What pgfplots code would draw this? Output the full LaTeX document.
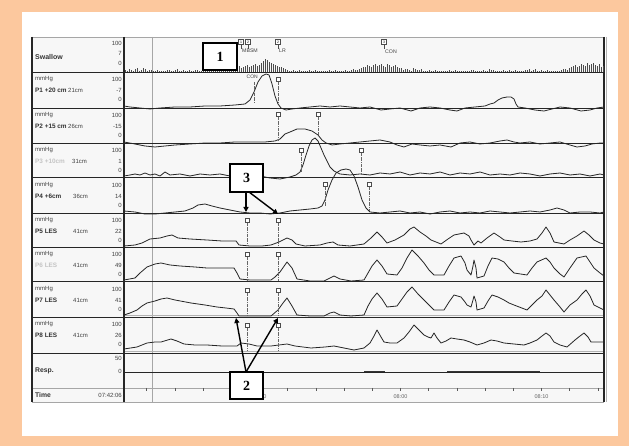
\documentclass[border=0pt]{standalone}
\usepackage{pgfplots}
\pgfplotsset{compat=1.18}
\usepackage{fontspec}
\setmainfont{Liberation Sans}
\newfontfamily\serifb{Liberation Serif}
\usetikzlibrary{arrows.meta}
\definecolor{peach}{HTML}{FCC89E}
\definecolor{panel}{HTML}{F7F7F7}
\definecolor{lbl}{HTML}{C4C4C4}
\tikzset{
  lab/.style={font=\fontsize{6}{6}\selectfont, text=black!75, inner sep=0pt},
  labb/.style={font=\fontsize{6.4}{6}\selectfont\bfseries, text=black!80, inner sep=0pt},
  num/.style={font=\fontsize{6}{6}\selectfont, text=black!75, inner sep=0pt, anchor=east},
  abox/.style={draw=black, line width=1.1pt, fill=white},
  arr/.style={line width=1.4pt, -{Triangle[length=5pt,width=5pt]}},
}
\begin{document}
\begin{tikzpicture}
% ================= page background and frame (1 unit = 1 px, y downward) =================
\begin{scope}[x=1pt, y=-1pt, yshift=446pt]
\fill[peach] (0,0) rectangle (629,446);
\fill[white] (22,12) rectangle (618,436);
\fill[panel] (32,37) rectangle (604,402);
\draw[gray!70, line width=0.6pt] (152,37) -- (152,402);
\foreach \yy in {72,108,143,177,213,247,281,317,353} {
  \draw[black!85, line width=0.7pt] (32,\yy) -- (604,\yy);
}
\draw[gray!60, line width=0.5pt] (124,315) -- (604,315);
\draw[gray!60, line width=0.5pt] (124,351) -- (604,351);
\draw[black!85, line width=0.7pt] (124,372) -- (604,372);
\draw[gray!70, line width=0.5pt] (32,388) -- (604,388);
\draw[gray!70, line width=0.5pt] (32,37) -- (604,37);
\draw[gray!70, line width=0.5pt] (32,402) -- (604,402);
\draw[black!85, line width=1.8pt] (32,37) -- (32,402);
\draw[black!85, line width=1.2pt] (124,37) -- (124,402);
\draw[black!85, line width=2.2pt] (604,37) -- (604,402);
\draw[gray!60, line width=1pt] (606.5,37) -- (606.5,402);
\foreach \xx in {146.7,174.9,203.1,231.3,259.5,287.7,315.9,344.1,372.3,400.5,428.7,456.9,485.1,513.3,541.5,569.7,597.9} {
  \draw[gray!70!black, line width=0.5pt] (\xx,388) -- (\xx,391);
}
\node[lab, text=black!60, font=\fontsize{5.5}{6}\selectfont] at (259.5,397) {07:50};
\node[lab, text=black!60, font=\fontsize{5.5}{6}\selectfont] at (400.5,397) {08:00};
\node[lab, text=black!60, font=\fontsize{5.5}{6}\selectfont] at (541.5,397) {08:10};
% label column
\node[labb, anchor=west, font=\fontsize{7}{7}\selectfont\bfseries] at (35,57) {Swallow};
\node[num] at (122,43) {100};
\node[num] at (122,53) {7};
\node[num] at (122,63) {0};
\foreach \tp/\nm/\cm/\val/\cx in {72/P1 +20 cm/21cm/-7/68, 108/P2 +15 cm/26cm/-15/68, 178/P4 +6cm/36cm/14/73, 213/P5 LES/41cm/22/73, 282/P7 LES/41cm/41/73, 317/P8 LES/41cm/26/73} {
  \node[lab, anchor=west] at (35,\tp+7) {mmHg};
  \node[labb, anchor=west] at (35,\tp+18) {\nm};
  \node[lab, anchor=west] at (\cx,\tp+18) {\cm};
  \node[num] at (122,\tp+7) {100};
  \node[num] at (122,\tp+18) {\val};
  \node[num] at (122,\tp+27) {0};
}
\foreach \tp/\nm/\cm/\val/\cx in {143/P3 +10cm/31cm/1/72, 247/P6 LES/41cm/49/73} {
  \node[lab, anchor=west] at (35,\tp+7) {mmHg};
  \node[labb, anchor=west, text=lbl] at (35,\tp+18) {\nm};
  \node[lab, anchor=west] at (\cx,\tp+18) {\cm};
  \node[num] at (122,\tp+7) {100};
  \node[num] at (122,\tp+18) {\val};
  \node[num] at (122,\tp+27) {0};
}
\node[labb, anchor=west, font=\fontsize{6.8}{7}\selectfont\bfseries] at (35,371) {Resp.};
\node[num] at (122,358) {50};
\node[num] at (122,371) {0};
\node[labb, anchor=west, font=\fontsize{6.8}{7}\selectfont\bfseries] at (35,395) {Time};
\node[num] at (122,395) {07:42:06};
% swallow marker labels
\node[lab, anchor=west, font=\fontsize{5.2}{5}\selectfont] at (242,51) {MBSM};
\node[lab, anchor=west, font=\fontsize{5.2}{5}\selectfont] at (279,51) {LR};
\node[lab, anchor=west, font=\fontsize{5.2}{5}\selectfont] at (385,52) {CON};
\node[lab, anchor=east, font=\fontsize{5}{5}\selectfont] at (258,77) {CON};
\end{scope}

% ================= data =================
\begin{axis}[
  at={(0,0)}, anchor=south west,
  width=629pt, height=446pt, scale only axis,
  xmin=0, xmax=629, ymin=0, ymax=446, y dir=reverse,
  hide axis, clip=false,
  trace/.style={black!85, line width=0.8pt, line join=round, mark=none},
  evt/.style={gray!80!black, line width=0.5pt, densely dashdotted, mark=none},
  sq/.style={only marks, mark=square*, mark size=2.2pt, mark options={fill=white, draw=gray!60!black, line width=0.5pt, solid}},
  spk/.style={black!70, line width=0.6pt, quiver={u=0, v=\thisrow{v}}},
]
% ---------- swallow channel ----------
\addplot[spk] table[x=x, y=y] {
x y v
125 72 -2
129 72 -3
133 72 -1
137 72 -4
141 72 -2
145 72 -3
149 72 -2
153 72 -1
157 72 -2
161 72 -1
165 72 -0.5
169 72 -2
173 72 -1
177 72 -3
181 72 -1
185 72 -0.5
189 72 -2
193 72 -1
197 72 -2
201 72 -1
205 72 -3
209 72 -2
213 72 -1
217 72 -2
221 72 -3
225 72 -2
229 72 -3
233 72 -4
237 72 -5
241 72 -4
245 72 -6
249 72 -5
253 72 -7
257 72 -6
261 72 -9
265 72 -13
269 72 -10
273 72 -8
277 72 -6
281 72 -5
285 72 -3
289 72 -1
293 72 -2
297 72 -1
301 72 -0.5
305 72 -1
309 72 -2
313 72 -0.5
317 72 -1
321 72 -1
325 72 -0.5
329 72 -2
333 72 -1
337 72 -0.5
341 72 -1
345 72 -2
349 72 -1
353 72 -3
357 72 -2
361 72 -4
365 72 -5
369 72 -6
373 72 -7
377 72 -6
381 72 -8
385 72 -5
389 72 -7
393 72 -6
397 72 -5
401 72 -4
405 72 -3
409 72 -2
413 72 -4
417 72 -2
421 72 -3
425 72 -1
429 72 -2
433 72 -0.5
437 72 -1
441 72 -0.5
445 72 -1
449 72 -2
453 72 -0.5
457 72 -1
461 72 -0.5
465 72 -0.5
469 72 -1
473 72 -2
477 72 -1
481 72 -0.5
485 72 -1
489 72 -3
493 72 -2
497 72 -1
501 72 -0.5
505 72 -1
509 72 -2
513 72 -1
517 72 -0.5
521 72 -1
525 72 -2
529 72 -3
533 72 -2
537 72 -1
541 72 -2
545 72 -1
549 72 -1
553 72 -0.5
557 72 -1
561 72 -2
565 72 -3
569 72 -4
573 72 -6
577 72 -5
581 72 -8
585 72 -6
589 72 -7
593 72 -9
597 72 -6
601 72 -5
};
\addplot[spk] table[x=x, y=y] {
x y v
127 72 -1
131 72 -2
135 72 -3
139 72 -1
143 72 -4
147 72 -1
151 72 -2
155 72 -1
159 72 -0.5
163 72 -1
167 72 -2
171 72 -0.5
175 72 -2
179 72 -1
183 72 -2
187 72 -1
191 72 -0.5
195 72 -2
199 72 -1
203 72 -2
207 72 -1
211 72 -2
215 72 -3
219 72 -1
223 72 -2
227 72 -4
231 72 -3
235 72 -5
239 72 -6
243 72 -5
247 72 -7
251 72 -6
255 72 -8
259 72 -7
263 72 -11
267 72 -12
271 72 -9
275 72 -7
279 72 -5
283 72 -4
287 72 -2
291 72 -1
295 72 -0.5
299 72 -2
303 72 -1
307 72 -0.5
311 72 -1
315 72 -2
319 72 -0.5
323 72 -1
327 72 -1
331 72 -0.5
335 72 -2
339 72 -1
343 72 -0.5
347 72 -1
351 72 -2
355 72 -2
359 72 -3
363 72 -5
367 72 -7
371 72 -5
375 72 -8
379 72 -7
383 72 -6
387 72 -8
391 72 -5
395 72 -7
399 72 -4
403 72 -2
407 72 -3
411 72 -1
415 72 -3
419 72 -2
423 72 -1
427 72 -0.5
431 72 -1
435 72 -2
439 72 -0.5
443 72 -1
447 72 -0.5
451 72 -1
455 72 -2
459 72 -0.5
463 72 -1
467 72 -0.5
471 72 -2
475 72 -1
479 72 -0.5
483 72 -2
487 72 -1
491 72 -2
495 72 -0.5
499 72 -1
503 72 -2
507 72 -0.5
511 72 -1
515 72 -2
519 72 -1
523 72 -0.5
527 72 -2
531 72 -1
535 72 -3
539 72 -1
543 72 -0.5
547 72 -2
551 72 -1
555 72 -0.5
559 72 -1
563 72 -3
567 72 -2
571 72 -5
575 72 -7
579 72 -6
583 72 -7
587 72 -9
591 72 -8
595 72 -7
599 72 -8
603 72 -6
};
% swallow event markers
\addplot[black!70, line width=0.5pt, mark=none] coordinates {(241,45) (241,49)};
\addplot[black!70, line width=0.5pt, mark=none] coordinates {(248,45) (248,49)};
\addplot[black!70, line width=0.5pt, mark=none] coordinates {(278,45) (278,49)};
\addplot[black!70, line width=0.5pt, mark=none] coordinates {(384,45) (384,49)};
\addplot[only marks, mark=square*, mark size=2.6pt, mark options={fill=white, draw=black!70, line width=0.5pt}] coordinates {(241,42) (248,42) (278,42) (384,42)};

% ---------- P1 ----------
\addplot[trace] coordinates {(124,106) (130,107) (140,108) (150,109) (160,108) (175,107) (190,107) (205,106) (220,106) (235,105) (245,104) (250,100) (254,92) (258,82) (262,76) (266,74) (269,75) (272,84) (275,96) (278,104) (281,108) (286,110) (292,109) (300,108) (310,107) (320,106) (330,107) (340,106) (350,107) (360,108) (370,107) (381,110) (390,109) (400,108) (411,111) (420,108) (430,107) (440,108) (450,110) (457,111) (465,108) (475,107) (485,106) (490,104) (494,103) (498,100) (502,98) (507,97) (511,97) (514,99) (516,104) (518,107) (525,108) (535,110) (544,111) (552,109) (560,107) (570,108) (581,111) (590,110) (597,108) (604,107)};
\addplot[evt] coordinates {(254,82) (254,104)};
\addplot[evt] coordinates {(278,82) (278,104)};
\addplot[sq] coordinates {(278,79)};

% ---------- P2 ----------
\addplot[trace] coordinates {(124,142) (135,144) (145,146) (155,147) (165,146) (175,145) (190,144) (205,143) (220,143) (235,142) (250,142) (265,142) (275,141) (280,139) (285,134) (290,132) (297,129) (305,129) (312,131) (318,135) (322,140) (326,143) (332,145) (340,144) (350,143) (360,142) (370,141) (380,140) (390,142) (397,145) (404,147) (412,144) (420,145) (430,146) (440,145) (451,147) (460,143) (470,142) (480,144) (490,143) (500,141) (507,140) (514,142) (520,143) (530,142) (540,144) (550,143) (560,142) (570,145) (577,147) (585,146) (592,144) (600,143) (604,143)};
\addplot[evt] coordinates {(278,117) (278,141)};
\addplot[evt] coordinates {(318,117) (318,135)};
\addplot[sq] coordinates {(278,114) (318,114)};

% ---------- P3 ----------
\addplot[trace] coordinates {(124,176) (130,175) (135,174) (140,175) (145,173) (150,175) (155,174) (160,176) (165,172) (170,175) (180,174) (190,176) (200,174) (210,175) (220,174) (230,176) (240,175) (250,174) (260,176) (270,178) (280,179) (290,177) (296,175) (300,172) (303,165) (306,155) (309,146) (312,140) (315,138) (318,141) (321,148) (324,155) (327,161) (330,167) (334,171) (340,174) (350,175) (360,174) (370,175) (380,173) (390,174) (400,172) (410,175) (420,173) (430,174) (440,172) (450,175) (460,173) (470,174) (480,172) (490,175) (500,174) (510,175) (520,173) (530,174) (540,176) (550,174) (560,173) (570,175) (580,174) (590,176) (600,174) (604,175)};
\addplot[evt] coordinates {(301,153) (301,172)};
\addplot[evt] coordinates {(361,153) (361,175)};
\addplot[sq] coordinates {(301,150) (361,150)};

% ---------- P4 ----------
\addplot[trace] coordinates {(124,211) (135,212) (145,214) (155,214) (165,213) (175,212) (185,211) (193,208) (198,205) (205,204) (212,206) (220,208) (230,210) (240,212) (250,213) (260,213) (270,214) (280,213) (290,211) (300,210) (310,209) (318,208) (322,206) (325,200) (328,190) (332,180) (336,173) (341,170) (346,169) (350,170) (354,176) (358,187) (362,200) (366,208) (370,212) (380,213) (390,212) (400,211) (410,213) (420,212) (430,214) (440,212) (450,211) (460,213) (470,212) (480,213) (490,211) (500,212) (510,213) (520,212) (530,211) (540,212) (550,210) (557,208) (564,210) (570,213) (580,212) (590,212) (600,213) (604,212)};
\addplot[evt] coordinates {(325,187) (325,206)};
\addplot[evt] coordinates {(369,187) (369,211)};
\addplot[sq] coordinates {(325,184) (369,184)};

% ---------- P5 ----------
\addplot[trace] coordinates {(124,246) (135,245) (142,243) (150,239) (160,238) (167,236) (172,235) (178,238) (190,239) (207,240) (222,241) (236,241) (239,245) (250,246) (262,246) (271,245) (279,242) (287,238) (292,240) (296,244) (305,246) (320,245) (327,243) (333,242) (338,245) (350,246) (364,244) (371,238) (377,232) (382,237) (387,243) (395,240) (404,235) (410,229) (414,227) (420,232) (426,236) (431,240) (441,244) (448,239) (454,235) (464,233) (469,236) (471,240) (474,245) (478,241) (481,243) (487,238) (494,233) (500,237) (504,240) (512,241) (521,242) (530,241) (537,239) (542,233) (546,227) (550,233) (554,242) (564,244) (570,240) (577,236) (584,231) (589,235) (594,240) (600,243) (604,244)};

% ---------- P6 ----------
\addplot[trace] coordinates {(124,280) (135,278) (140,273) (147,267) (155,264) (161,263) (170,265) (180,266) (195,267) (207,268) (220,268) (234,268) (237,273) (240,279) (250,280) (262,280) (271,280) (275,277) (280,272) (287,262) (292,268) (297,279) (310,281) (324,281) (330,278) (334,276) (340,279) (351,281) (364,280) (368,273) (372,266) (377,260) (382,266) (387,274) (397,275) (402,268) (407,258) (412,250) (418,256) (424,263) (429,270) (434,275) (444,275) (449,266) (454,258) (461,256) (465,263) (467,270) (471,275) (473,266) (474,260) (476,268) (477,278) (484,276) (488,266) (492,258) (498,259) (504,262) (509,268) (514,273) (527,275) (532,268) (537,262) (546,258) (550,262) (554,268) (560,274) (564,277) (570,268) (577,258) (586,256) (590,262) (594,268) (600,273) (604,276)};

% ---------- P7 ----------
\addplot[trace] coordinates {(124,315) (130,313) (137,310) (142,306) (147,303) (155,301) (161,299) (167,298) (175,300) (191,303) (205,305) (217,307) (226,308) (234,309) (237,313) (239,316) (255,316) (271,316) (278,310) (283,303) (287,298) (292,306) (297,315) (310,316) (324,316) (330,313) (334,312) (340,315) (351,316) (364,315) (368,306) (372,299) (377,293) (382,299) (387,307) (397,306) (402,299) (407,292) (412,287) (418,294) (424,300) (429,305) (434,310) (444,310) (449,302) (454,295) (461,297) (465,302) (467,305) (471,307) (473,300) (474,296) (476,302) (477,310) (484,308) (488,301) (492,295) (498,297) (504,300) (509,303) (514,305) (527,310) (532,305) (537,300) (542,296) (546,290) (550,295) (554,300) (560,307) (564,312) (570,305) (577,300) (582,294) (586,290) (590,296) (594,305) (600,308) (604,310)};

% ---------- P8 ----------
\addplot[trace] coordinates {(124,349) (137,347) (147,343) (155,342) (161,342) (171,339) (177,341) (184,344) (195,345) (207,345) (222,346) (237,346) (241,343) (249,344) (257,346) (271,346) (279,345) (287,344) (295,346) (311,348) (325,347) (334,346) (344,348) (354,350) (364,348) (370,343) (374,336) (377,330) (381,337) (384,342) (390,343) (397,343) (404,338) (409,332) (414,325) (419,330) (424,335) (428,337) (431,338) (434,333) (437,338) (441,343) (446,341) (451,338) (457,339) (464,340) (470,342) (477,345) (484,343) (491,340) (497,341) (504,343) (514,344) (524,345) (530,343) (537,340) (542,336) (546,333) (550,336) (554,342) (560,345) (567,347) (575,340) (580,336) (584,333) (588,337) (591,342) (597,342) (604,342)};

% LES event markers
\addplot[evt] coordinates {(247,223) (247,246)};
\addplot[evt] coordinates {(278,223) (278,246)};
\addplot[evt] coordinates {(247,257) (247,281)};
\addplot[evt] coordinates {(278,257) (278,281)};
\addplot[evt] coordinates {(247,293) (247,316)};
\addplot[evt] coordinates {(278,293) (278,316)};
\addplot[evt] coordinates {(247,328) (247,351)};
\addplot[evt] coordinates {(278,328) (278,351)};
\addplot[sq] coordinates {(247,220) (278,220) (247,254) (278,254) (247,290) (278,290) (247,325) (278,325)};

% ---------- Resp ----------
\addplot[black!80, line width=0.9pt, mark=none] coordinates {(364,371.3) (385,371.3)};
\addplot[black!80, line width=0.9pt, mark=none] coordinates {(447,371.3) (540,371.3)};
\end{axis}

% ================= annotations =================
\begin{scope}[x=1pt, y=-1pt, yshift=446pt]
\node[inner sep=0pt, font=\fontsize{3.5}{4}\selectfont] at (241,42) {1};
\node[inner sep=0pt, font=\fontsize{3.5}{4}\selectfont] at (248,42) {2};
\node[inner sep=0pt, font=\fontsize{3.5}{4}\selectfont] at (278,42) {2};
\node[inner sep=0pt, font=\fontsize{3.5}{4}\selectfont] at (384,42) {3};
\draw[abox] (203,43) rectangle (237,70);
\node[font=\serifb\fontsize{14}{14}\selectfont\bfseries] at (220,57) {1};
\draw[abox] (230,164) rectangle (263,192);
\node[font=\serifb\fontsize{14}{14}\selectfont\bfseries] at (246.5,178) {3};
\draw[arr] (246,192) -- (246,212);
\draw[arr] (249,192) -- (278,214);
\draw[arr] (246,372) -- (236,318);
\draw[arr] (246,372) -- (278,318);
\draw[abox] (230,372) rectangle (263,399);
\node[font=\serifb\fontsize{14}{14}\selectfont\bfseries] at (246.5,386) {2};
\end{scope}
\end{tikzpicture}
\end{document}
